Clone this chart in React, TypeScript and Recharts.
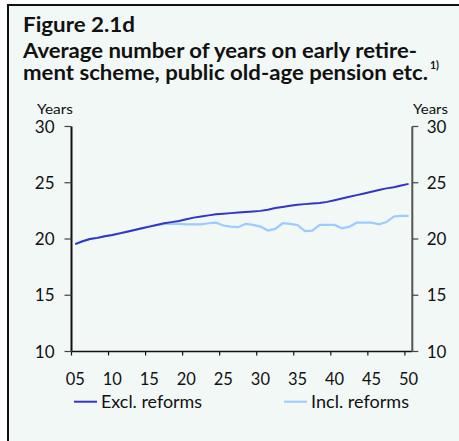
import React from 'react';
import { LineChart, Line, XAxis, YAxis } from 'recharts';

const years = [
  2005, 2006, 2007, 2008, 2009, 2010, 2011, 2012, 2013, 2014, 2015, 2016, 2017, 2018, 2019, 2020,
  2021, 2022, 2023, 2024, 2025, 2026, 2027, 2028, 2029, 2030, 2031, 2032, 2033, 2034, 2035, 2036,
  2037, 2038, 2039, 2040, 2041, 2042, 2043, 2044, 2045, 2046, 2047, 2048, 2049, 2050,
];

const exclReforms = [
  19.55, 19.8, 20.0, 20.1, 20.25, 20.35, 20.5, 20.65, 20.8, 20.95, 21.1, 21.25, 21.4, 21.5, 21.6, 21.75,
  21.9, 22.0, 22.1, 22.2, 22.25, 22.3, 22.35, 22.4, 22.45, 22.5, 22.6, 22.75, 22.85, 22.95, 23.05, 23.1,
  23.15, 23.2, 23.3, 23.45, 23.6, 23.75, 23.9, 24.05, 24.2, 24.35, 24.5, 24.6, 24.75, 24.9,
];

const inclReforms = [
  19.55, 19.8, 20.0, 20.1, 20.25, 20.35, 20.5, 20.65, 20.8, 20.95, 21.1, 21.25, 21.35, 21.35, 21.35, 21.3,
  21.3, 21.3, 21.4, 21.45, 21.2, 21.1, 21.05, 21.35, 21.25, 21.1, 20.75, 20.9, 21.4, 21.35, 21.25, 20.7,
  20.75, 21.25, 21.25, 21.25, 20.95, 21.1, 21.45, 21.45, 21.45, 21.3, 21.5, 22.0, 22.05, 22.05,
];

const xTicks = [2005, 2010, 2015, 2020, 2025, 2030, 2035, 2040, 2045, 2050];
const yTicks = [10, 15, 20, 25, 30];

const data = years.map((year, i) => ({ year, excl: exclReforms[i], incl: inclReforms[i] }));

const EXCL_COLOR = '#3434c8';
const INCL_COLOR = '#9ccbff';
const FONT = 'Lato, "Open Sans", sans-serif';

const XTick = (props: any) => {
  const { x, y, payload } = props;
  return (
    <text x={x + 3.7} y={y} dy="0.71em" textAnchor="middle" fontSize={16.5} fill="#111" fontFamily={FONT}>
      {String(payload.value).slice(2)}
    </text>
  );
};

const LeftTick = (props: any) => {
  const { x, y, payload } = props;
  return (
    <text x={x} y={y} dy="0.355em" textAnchor="end" fontSize={17} fill="#111" fontFamily={FONT}>
      {payload.value}
    </text>
  );
};

const RightTick = (props: any) => {
  const { x, y, payload } = props;
  return (
    <text x={x} y={y} dy="0.355em" textAnchor="start" fontSize={17} fill="#111" fontFamily={FONT}>
      {payload.value}
    </text>
  );
};

export default function App() {
  return (
    <div style={{ position: 'absolute', left: 0, top: 0, width: 459, height: 441, background: '#fff', overflow: 'hidden' }}>
      <div
        style={{
          position: 'absolute',
          left: 7,
          top: 4,
          width: 470,
          height: 460,
          borderLeft: '2px solid #111',
          borderTop: '2px solid #111',
          background: '#f2f8f6',
        }}
      />
      <div style={{ position: 'absolute', left: 0, top: 0 }}>
        <LineChart width={459} height={441} data={data} margin={{ top: 126.5, right: 6.7, bottom: 49.5, left: 31.5 }}>
          <XAxis
            type="number"
            dataKey={(d: any) => d.year + 0.5}
            domain={[2005, 2051]}
            ticks={xTicks}
            interval={0}
            allowDataOverflow
            height={40}
            tickSize={4}
            tickMargin={17.8}
            axisLine={{ stroke: '#111', strokeWidth: 1.5 }}
            tickLine={{ stroke: '#111', strokeWidth: 1.2 }}
            tick={<XTick />}
          />
          <YAxis
            yAxisId="left"
            domain={[10, 30]}
            ticks={yTicks}
            interval={0}
            width={40}
            tickSize={7}
            tickMargin={10}
            axisLine={{ stroke: '#111', strokeWidth: 2 }}
            tickLine={{ stroke: '#444', strokeWidth: 1.2 }}
            tick={<LeftTick />}
          />
          <YAxis
            yAxisId="right"
            orientation="right"
            domain={[10, 30]}
            ticks={yTicks}
            interval={0}
            width={40}
            tickSize={6}
            tickMargin={8.4}
            axisLine={{ stroke: '#555', strokeWidth: 2 }}
            tickLine={{ stroke: '#444', strokeWidth: 1.2 }}
            tick={<RightTick />}
          />
          <Line
            yAxisId="left"
            type="linear"
            dataKey="incl"
            name="Incl. reforms"
            stroke={INCL_COLOR}
            strokeWidth={2.2}
            dot={false}
            isAnimationActive={false}
          />
          <Line
            yAxisId="right"
            type="linear"
            dataKey="excl"
            name="Excl. reforms"
            stroke={EXCL_COLOR}
            strokeWidth={2}
            dot={false}
            isAnimationActive={false}
          />
        </LineChart>
      </div>
      <svg width={459} height={441} style={{ position: 'absolute', left: 0, top: 0, pointerEvents: 'none' }}>
        <g fontFamily={FONT} fill="#111">
          <text x={23} y={31.5} fontSize={21} fontWeight={700} textLength={112} lengthAdjust="spacingAndGlyphs">
            Figure 2.1d
          </text>
          <text x={23} y={57.5} fontSize={20.5} fontWeight={700} textLength={394} lengthAdjust="spacingAndGlyphs">
            Average number of years on early retire-
          </text>
          <text x={23} y={80} fontSize={20.5} fontWeight={700} textLength={405} lengthAdjust="spacingAndGlyphs">
            ment scheme, public old-age pension etc.
          </text>
          <text x={430} y={69} fontSize={10.5} fontWeight={700}>
            1)
          </text>
          <text x={37} y={114} fontSize={14} textLength={36} lengthAdjust="spacingAndGlyphs">
            Years
          </text>
          <text x={413} y={114} fontSize={14} textLength={35} lengthAdjust="spacingAndGlyphs">
            Years
          </text>
          <line x1={74} x2={97} y1={401.7} y2={401.7} stroke={EXCL_COLOR} strokeWidth={2} />
          <text x={101} y={408} fontSize={17} textLength={101} lengthAdjust="spacingAndGlyphs">
            Excl. reforms
          </text>
          <line x1={284} x2={307} y1={401.7} y2={401.7} stroke={INCL_COLOR} strokeWidth={2} />
          <text x={311} y={408} fontSize={17} textLength={98} lengthAdjust="spacingAndGlyphs">
            Incl. reforms
          </text>
        </g>
      </svg>
    </div>
  );
}
